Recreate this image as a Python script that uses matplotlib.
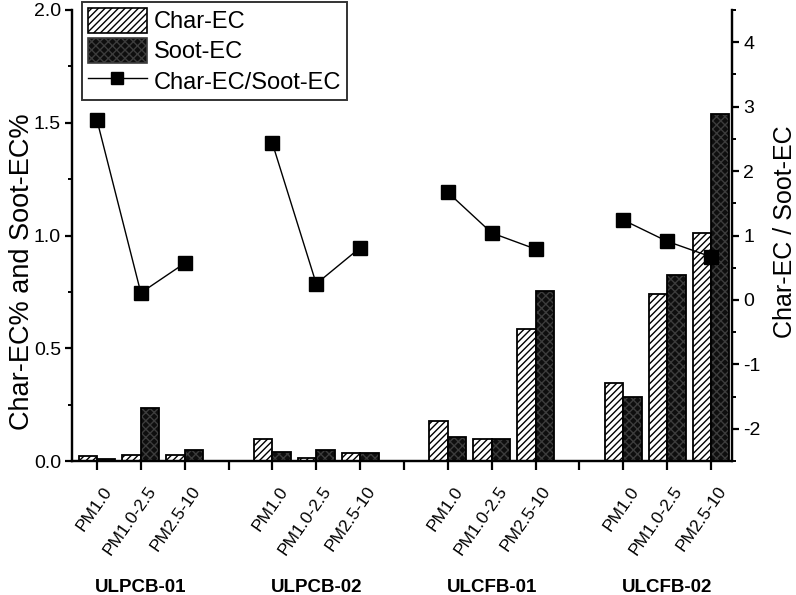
import matplotlib
matplotlib.use("Agg")
import matplotlib.pyplot as plt
from matplotlib.patches import Patch
from matplotlib.lines import Line2D
from matplotlib.ticker import MultipleLocator
from matplotlib.transforms import ScaledTranslation
import numpy as np

plt.rcParams['font.family'] = ['Liberation Sans', 'DejaVu Sans']
plt.rcParams['hatch.linewidth'] = 1.0
plt.rcParams['axes.unicode_minus'] = False

groups = ["ULPCB-01", "ULPCB-02", "ULCFB-01", "ULCFB-02"]
sizes = ["PM1.0", "PM1.0-2.5", "PM2.5-10"]
char_ec = [0.024, 0.027, 0.027,
           0.096, 0.013, 0.034,
           0.177, 0.098, 0.587,
           0.345, 0.739, 1.010]
soot_ec = [0.008, 0.235, 0.048,
           0.041, 0.048, 0.037,
           0.108, 0.098, 0.755,
           0.282, 0.825, 1.539]
ratio = [2.79, 0.11, 0.57,
         2.43, 0.25, 0.81,
         1.67, 1.04, 0.79,
         1.24, 0.91, 0.67]

# positions: 3 bars per group, one empty slot between groups
pos = []
for g in range(len(groups)):
    for s in range(len(sizes)):
        pos.append(1 + g * 4 + s)
pos = np.array(pos, dtype=float)
all_ticks = np.arange(1, 16)

fig = plt.figure(figsize=(7.96, 5.95), dpi=100)
ax = fig.add_axes([72/796, 1-461/595, (732-72)/796, 451/595])
ax2 = ax.twinx()

w = 0.42
ax.bar(pos - w/2, char_ec, width=w, facecolor='white', edgecolor='black',
       hatch='/////', linewidth=1.3, zorder=2)
ax.bar(pos + w/2, soot_ec, width=w, facecolor='#0e0e0e', edgecolor='#3c3c3c',
       hatch='xxxx', linewidth=0, zorder=2)
ax.bar(pos + w/2, soot_ec, width=w, fill=False, edgecolor='black',
       linewidth=1.3, zorder=3)

for g in range(len(groups)):
    sl = slice(g*3, g*3+3)
    ax2.plot(pos[sl], ratio[sl], color='black', lw=1.0, marker='s',
             markersize=10, markerfacecolor='black', markeredgecolor='black')

ax.set_xlim(0.43, 15.48)
ax.set_ylim(0, 2.0)
ax2.set_ylim(-2.5, 4.5)

ax.yaxis.set_major_locator(MultipleLocator(0.5))
ax.yaxis.set_minor_locator(MultipleLocator(0.25))
ax2.yaxis.set_major_locator(MultipleLocator(1))
ax2.yaxis.set_minor_locator(MultipleLocator(0.5))
ax.yaxis.set_major_formatter(plt.FormatStrFormatter('%.1f'))

ax.set_xticks(all_ticks)
ax.set_xticklabels([])
# size labels, rotated, slightly offset to the right of each tick
lab_tr = ax.get_xaxis_transform() + ScaledTranslation(12/100, -27/100,
                                                      fig.dpi_scale_trans)
for i, p in enumerate(pos):
    ax.text(p, 0, sizes[i % 3], transform=lab_tr, rotation=55,
            ha='right', va='center', rotation_mode='anchor', fontsize=12.5)

for a in (ax, ax2):
    for sp in a.spines.values():
        sp.set_linewidth(1.6)
    a.spines['top'].set_visible(False)

ax.tick_params(axis='x', which='major', direction='out', length=6.5, width=1.6)
ax.tick_params(axis='y', which='major', direction='out', length=5, width=1.6,
               labelsize=14, pad=3)
ax.tick_params(axis='y', which='minor', direction='out', length=3, width=1.4)
ax2.tick_params(axis='y', which='major', direction='out', length=5, width=1.6,
                labelsize=14, pad=3)
ax2.tick_params(axis='y', which='minor', direction='out', length=3, width=1.4)

for g, name in enumerate(groups):
    ax.text(pos[g*3+1], -0.28, name, transform=ax.get_xaxis_transform(),
            ha='center', va='center', fontsize=13.5, fontweight='bold')

fig.text(22/796, 1-272/595, "Char-EC% and Soot-EC%", rotation=90,
         ha='center', va='center', fontsize=19.5)
fig.text(785/796, 1-232/595, "Char-EC / Soot-EC", rotation=90,
         ha='center', va='center', fontsize=18)

handles = [
    Patch(facecolor='white', edgecolor='black', hatch='/////', linewidth=1.2),
    Patch(facecolor='#0e0e0e', edgecolor='#3c3c3c', hatch='xxxx', linewidth=1.2),
    Line2D([], [], color='black', lw=1.0, marker='s', markersize=9,
           markerfacecolor='black'),
]
leg = fig.legend(handles, ["Char-EC", "Soot-EC", "Char-EC/Soot-EC"],
                 loc='upper left', bbox_to_anchor=(82/796, 1-2/595),
                 borderaxespad=0, fontsize=17, frameon=True, fancybox=False,
                 edgecolor='black', handlelength=2.5, handleheight=1.25,
                 labelspacing=0.2, borderpad=0.25, handletextpad=0.3)
leg.get_frame().set_linewidth(1.4)
leg.set_zorder(10)

fig.savefig("out.png", dpi=100)
